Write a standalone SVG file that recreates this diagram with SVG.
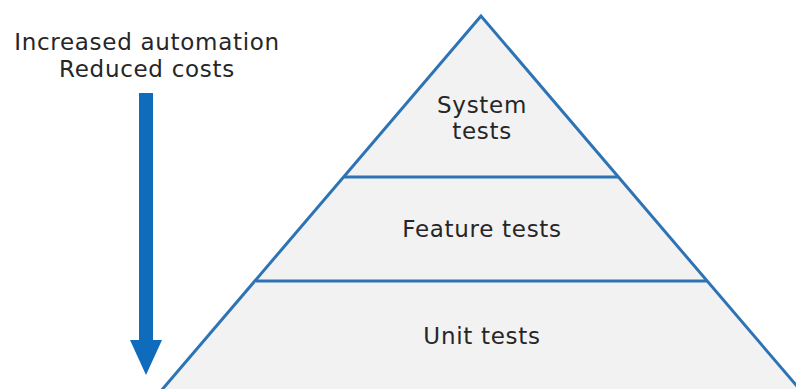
<svg xmlns="http://www.w3.org/2000/svg" width="796" height="389" viewBox="0 0 796 389">
<style>
.lbl{font-family:"DejaVu Sans",Verdana,sans-serif;font-size:23px;letter-spacing:0.7px;fill:#262626;text-anchor:middle}
.edge{stroke:#2E74B5;stroke-width:3;fill:none}
</style>
<rect width="796" height="389" fill="#ffffff"/>
<g id="pyramid">
<polygon points="481,16 157.5,395 804.5,395" fill="#F2F2F2" stroke="#2E74B5" stroke-width="3" stroke-linejoin="miter"/>
</g>
<g id="connectors">
<line class="edge" x1="344" y1="177" x2="618" y2="177"/>
<line class="edge" x1="256" y1="281" x2="707" y2="281"/>
<polygon id="arrow" points="139,93 153,93 153,340 162,340 146,375 130,340 139,340" fill="#0F6CBD"/>
</g>
<g id="note">
<text class="lbl" x="147" y="50">Increased automation</text>
<text class="lbl" x="147" y="77">Reduced costs</text>
</g>
<g id="system-tests">
<text class="lbl" x="482" y="113">System</text>
<text class="lbl" x="482" y="139">tests</text>
</g>
<g id="feature-tests">
<text class="lbl" x="482" y="237">Feature tests</text>
</g>
<g id="unit-tests">
<text class="lbl" x="482" y="344">Unit tests</text>
</g>
</svg>
